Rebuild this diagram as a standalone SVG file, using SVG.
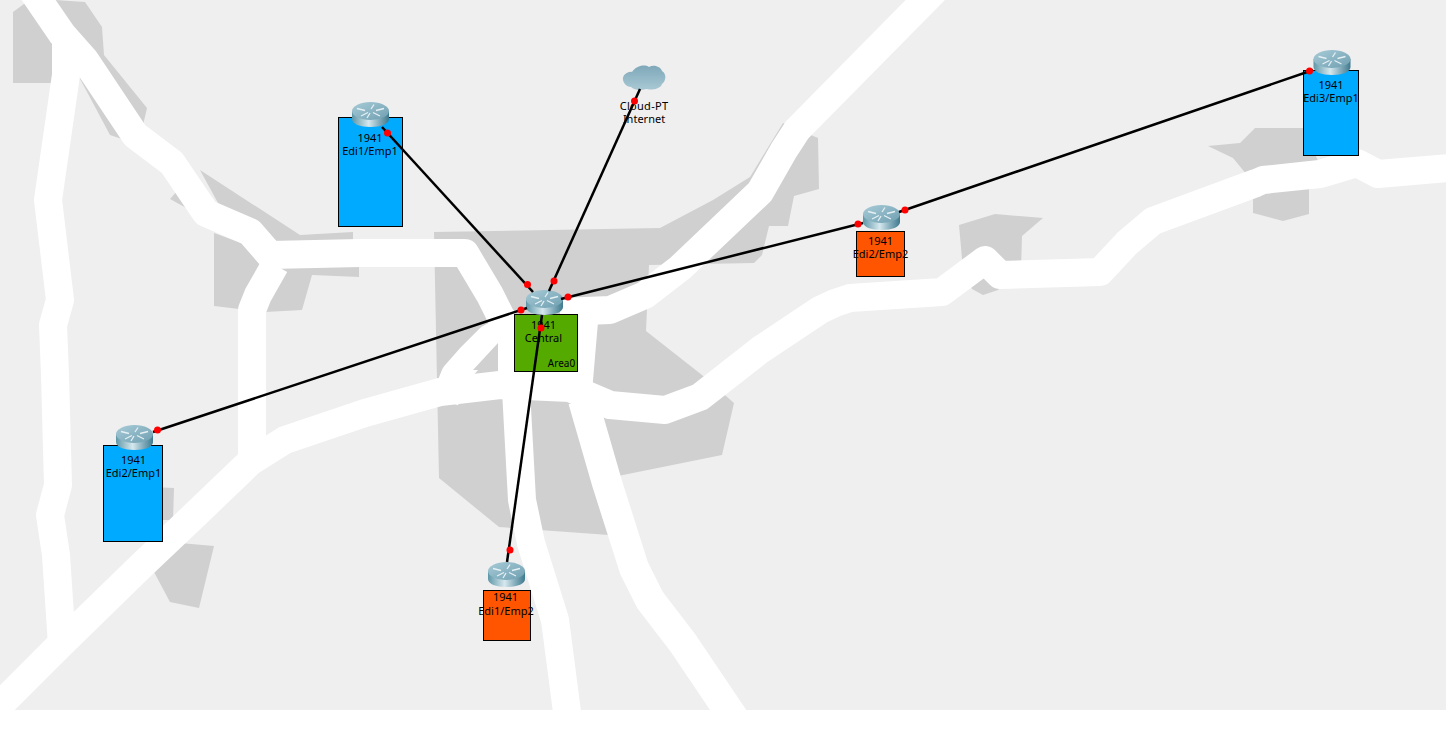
<svg xmlns="http://www.w3.org/2000/svg" width="1446" height="750" viewBox="0 0 1446 750">
<style>
.b{fill:#d0d0d0}
.r{fill:none;stroke:#fff;stroke-width:28;stroke-linejoin:round;stroke-linecap:butt}
.box{stroke:#000;stroke-width:1}
.blue{fill:#00aaff}.green{fill:#55aa00}.orange{fill:#ff5500}
text{font-family:"Noto Sans","DejaVu Sans",sans-serif;font-size:11px;fill:#000;text-anchor:middle}
.c{stroke:#000;stroke-width:2.500;fill:none}
.p{fill:#ff0000}
</style>
<defs>
<linearGradient id="side" x1="0" x2="1" y1="0" y2="0"><stop offset="0" stop-color="#5f97a8"/><stop offset=".45" stop-color="#d6e8ee"/><stop offset=".75" stop-color="#7fa9b8"/><stop offset="1" stop-color="#3f7a8e"/></linearGradient>
<linearGradient id="top" x1="0" x2="1" y1="0" y2="1"><stop offset="0" stop-color="#a8cbd7"/><stop offset="1" stop-color="#6f9fb1"/></linearGradient>
<linearGradient id="cl" x1="0" x2="0" y1="0" y2="1"><stop offset="0" stop-color="#7ea8b9"/><stop offset="1" stop-color="#a9c8d4"/></linearGradient>
<g id="router">
<path d="M0 9V17C0 22 8 25 18.500 25S37 22 37 17V9Z" fill="url(#side)"/>
<ellipse cx="18.500" cy="9" rx="18.500" ry="9" fill="url(#top)"/>
<path d="M5 6.500L13 8.500M32 6.500L24 8.500M9 14L16 10.500M28 14L21 10.500M22 2.500L19 7M15 16L18 11" stroke="#e4f0f4" stroke-width="1.300" fill="none"/>
</g>
</defs>
<rect width="1446" height="750" fill="#fff"/>
<g id="map">
<rect width="1446" height="710" fill="#efefef"/>
<polygon class="b" points="13,12 24,4 55,0 85,2 102,27 104,55 147,108 143,125 125,140 110,135 78,75 60,83 13,83"/>
<polygon class="b" points="200,170 300,235 353,232 353,245 280,250 230,225"/>
<polygon class="b" points="170,199 178,190 190,210"/>
<polygon class="b" points="214,233 214,306 265,312 302,310 312,275 359,277 359,260 260,250"/>
<polygon class="b" points="434,232 660,228 713,200 750,177 783,123 787,125 818,138 819,189 794,196 788,226 769,226 762,255 754,263 649,265 646,331 702,375 734,403 722,455 618,476 609,535 499,527 439,478"/>
<polygon class="b" points="150,487 174,488 173,520 150,520"/>
<polygon class="b" points="180,543 214,546 199,608 170,602 154,572"/>
<polygon class="b" points="959,225 995,214 1043,218 1022,236 1021,270 998,290 983,295 972,289 963,270"/>
<polygon class="b" points="1208,146 1240,143 1255,128 1303,128 1320,165 1247,175 1233,158"/>
<polygon class="b" points="1253,185 1309,180 1309,214 1283,221 1253,213"/>
<g id="roads">
<polyline class="r" points="25,-20 62,34 85,60 135,135 172,163 197,200 206,213 250,232 270,255 360,253 465,253 490,295 505,325"/>
<polyline class="r" points="66,40 66,75 48,200 60,300 53,325 55,375 58,485 50,515 56,555 62,645"/>
<polyline class="r" points="-25,730 62,643 140,567 200,510 250,462 285,440 365,413 440,392 500,385 570,388 610,405 665,410 700,397 760,350 820,310 835,303 850,298 942,292 985,260 1000,275 1100,272 1127,243 1153,221 1256,183 1263,180 1320,174 1357,163 1378,174 1460,167"/>
<polyline class="r" points="945,-20 797,130 784,150 760,192 680,268 645,295 610,310 560,312"/>
<polyline class="r" points="445,400 455,375 470,358 490,338 520,322"/>
<polyline class="r" points="252,460 252,310 258,295 275,265"/>
<polyline class="r" points="516,390 522,500 531,543 555,620 570,735"/>
<polyline class="r" style="stroke-width:30" points="583,400 607,483 634,568 650,600 683,643 745,735"/>
<polygon fill="#fff" points="498,320 598,322 592,392 498,392"/>
<polygon class="b" points="473,370 498,343 498,370"/>
<rect y="710" width="1446" height="40" fill="#fff"/>
</g>
</g>
<g id="edi1emp1"><rect class="box blue" x="338.500" y="117.500" width="64" height="109"/><use href="#router" x="352" y="102"/><text x="370" y="142">1941</text><text x="370" y="155">Edi1/Emp1</text></g>
<g id="central"><rect class="box green" x="514.500" y="314.500" width="63" height="57"/><use href="#router" x="526" y="290"/><text x="543.500" y="329">1941</text><text x="543.500" y="342">Central</text><text x="561.500" y="367" style="font-size:10px">Area0</text></g>
<g id="edi2emp1"><rect class="box blue" x="103.500" y="445.500" width="59" height="96"/><use href="#router" x="116" y="425"/><text x="133.500" y="464">1941</text><text x="133.500" y="477">Edi2/Emp1</text></g>
<g id="edi1emp2"><rect class="box orange" x="483.500" y="590.500" width="47" height="50"/><use href="#router" x="488" y="562"/><text x="505.500" y="601">1941</text><text x="506" y="615">Edi1/Emp2</text></g>
<g id="edi2emp2"><rect class="box orange" x="856.500" y="231.500" width="48" height="45"/><use href="#router" x="863" y="205"/><text x="880.500" y="245">1941</text><text x="880.500" y="258">Edi2/Emp2</text></g>
<g id="edi3emp1"><rect class="box blue" x="1303.500" y="70.500" width="55" height="85"/><use href="#router" x="1313.500" y="50"/><text x="1331" y="89">1941</text><text x="1331" y="102">Edi3/Emp1</text></g>
<g id="internet"><path d="M623 80C622 75 628 71 632 72C636 66 644 64 649 67C654 64 661 67 662 71C667 74 666 81 662 84C660 90 650 90 646 89C640 91 634 90 631 87C627 87 624 84 623 80Z" fill="url(#cl)"/><text x="644" y="110" style="letter-spacing:.3px">Cloud-PT</text><text x="644" y="123">Internet</text></g>
<g id="connectors">
<line class="c" x1="382" y1="127" x2="533" y2="292"/>
<line class="c" x1="640" y1="89" x2="549" y2="291"/>
<line class="c" x1="561" y1="299" x2="863" y2="223"/>
<line class="c" x1="899" y1="212" x2="1313" y2="70"/>
<line class="c" x1="527" y1="308" x2="153" y2="432"/>
<line class="c" x1="542" y1="315" x2="507" y2="562"/>
<circle class="p" cx="387.500" cy="133" r="3.500"/><circle class="p" cx="527.500" cy="284.500" r="3.500"/>
<circle class="p" cx="634.500" cy="101" r="3.500"/><circle class="p" cx="554" cy="281" r="3.500"/>
<circle class="p" cx="568" cy="297" r="3.500"/><circle class="p" cx="858" cy="224" r="3.500"/>
<circle class="p" cx="905" cy="210" r="3.500"/><circle class="p" cx="1309.500" cy="71" r="3.500"/>
<circle class="p" cx="521" cy="310" r="3.500"/><circle class="p" cx="157.500" cy="430" r="3.500"/>
<circle class="p" cx="541" cy="328" r="3.500"/><circle class="p" cx="510" cy="550" r="3.500"/>
</g>
</svg>
